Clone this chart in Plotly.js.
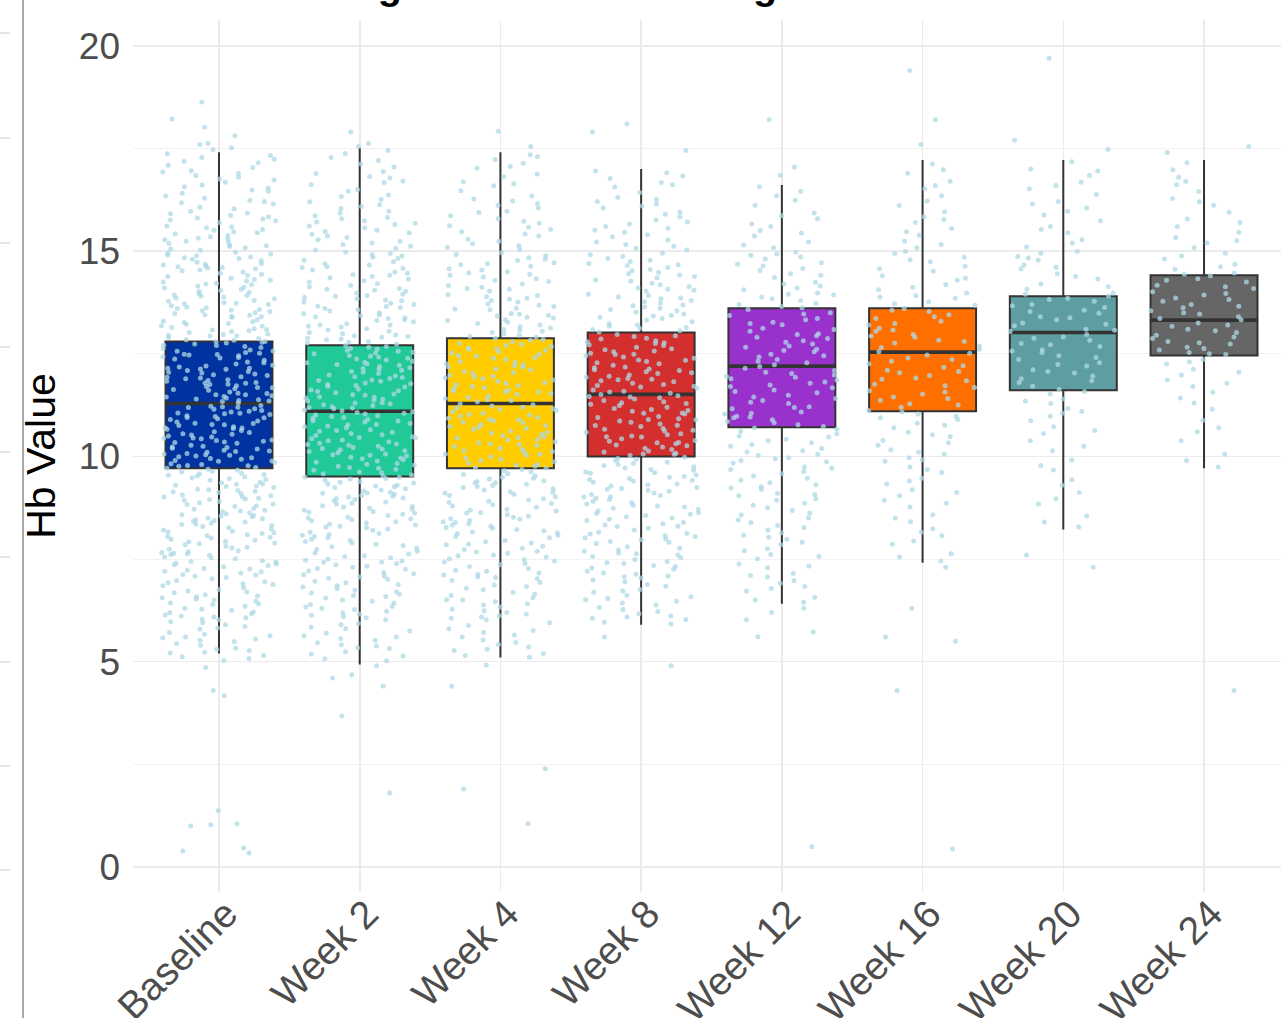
<!DOCTYPE html>
<html><head><meta charset="utf-8">
<script src="https://cdn.plot.ly/plotly-3.0.1.min.js"></script>
<style>html,body{margin:0;padding:0;background:#fff;overflow:hidden}</style>
</head><body><div id="chart" style="width:1281px;height:1018px"></div>
<script>
// ---- categories and box statistics ----
const categories = ['Baseline','Week 2','Week 4','Week 8','Week 12','Week 16','Week 20','Week 24'];
const q1 = [9.71, 9.51, 9.71, 10.0, 10.71, 11.1, 11.61, 12.46];
const medians = [11.29, 11.1, 11.29, 11.51, 12.2, 12.54, 13.02, 13.32];
const q3 = [12.8, 12.71, 12.88, 13.02, 13.61, 13.61, 13.9, 14.41];
const lowerWhisker = [5.2, 4.93, 5.1, 5.9, 6.41, 7.41, 8.22, 9.71];
const upperWhisker = [17.41, 17.51, 17.41, 17.0, 16.61, 17.22, 17.22, 17.22];
const boxColors = ['#0033A0','#20C997','#FFCC00','#D32F2F','#9932CC','#FF6F00','#5F9EA0','#666666'];
const yTickVals = [0, 5, 10, 15, 20];
const yMinorVals = [2.5, 7.5, 12.5, 17.5];
const chartTitle = 'Mean Hemoglobin Levels Throughout Treatment Weeks';
const yTitle = 'Hb Value';

const baselineCore = [5.23,5.44,5.58,5.71,5.12,5.95,5.33,5.67,5.86,5.49,5.27,5.9,
6.04,6.21,6.3,6.47,6.63,6.72,6.88,6.14,6.25,6.56,6.92,6.39,6.8,6.07,6.68,6.43,6.98,
7.02,7.16,7.27,7.36,7.51,7.55,7.64,7.7,7.85,7.93,7.08,7.23,7.4,7.59,7.66,7.89,7.19,7.46,7.77,7.98,
8.03,8.12,8.18,8.29,8.35,8.44,8.53,8.6,8.69,8.78,8.84,8.95,8.07,8.23,8.4,8.56,8.73,8.87,8.14,8.48,8.65,8.98,
9.02,9.12,9.17,9.28,9.33,9.42,9.5,9.56,9.64,9.71,9.8,9.85,9.93,9.06,9.24,9.37,9.54,9.69,9.82,9.97,9.15,9.46,9.76,9.9,
10.01,10.1,10.18,10.23,10.32,10.37,10.47,10.52,10.6,10.69,10.75,10.81,10.9,10.95,10.04,10.22,10.35,10.5,10.63,10.78,10.92,10.13,10.43,10.7,10.99,
11.04,11.1,11.19,11.24,11.34,11.4,11.48,11.54,11.63,11.68,11.76,11.85,11.91,11.99,11.06,11.21,11.38,11.5,11.67,11.8,11.94,11.15,11.45,11.72,11.87,
12.03,12.13,12.18,12.28,12.34,12.43,12.49,12.59,12.65,12.74,12.8,12.9,12.95,12.09,12.22,12.4,12.53,12.7,12.84,12.98,12.15,12.47,12.76,12.93,
13.04,13.11,13.22,13.28,13.39,13.45,13.56,13.62,13.73,13.8,13.91,13.96,13.08,13.26,13.41,13.6,13.75,13.93,13.17,13.5,13.67,13.86,
14.04,14.15,14.22,14.34,14.41,14.52,14.59,14.7,14.77,14.89,14.95,14.1,14.29,14.46,14.64,14.84,14.18,14.57,14.73,14.93,
15.05,15.15,15.28,15.38,15.51,15.61,15.74,15.84,15.97,15.11,15.32,15.57,15.78,15.22,15.45,15.91,
16.07,16.18,16.34,16.46,16.61,16.73,16.89,16.96,16.24,16.54,16.8,
17.04,17.19,17.28,17.37];
const baselineMore = [5.15,5.3,5.52,5.63,5.79,5.97,5.21,5.4,5.6,5.82,5.08,5.55,
6.02,6.11,6.19,6.35,6.41,6.52,6.6,6.76,6.85,6.95,6.09,6.28,6.5,6.7,6.9,6.17,6.58,
7.05,7.12,7.2,7.31,7.38,7.44,7.53,7.61,7.68,7.74,7.81,7.87,7.96,7.11,7.26,7.43,7.62,7.79,7.92,7.34,
8.01,8.09,8.16,8.21,8.32,8.38,8.46,8.5,8.58,8.63,8.71,8.8,8.9,8.96,8.05,8.26,8.42,8.55,8.67,8.83,8.93,8.34,
9.01,9.09,9.14,9.2,9.3,9.36,9.44,9.48,9.59,9.66,9.73,9.78,9.88,9.95,9.04,9.19,9.32,9.52,9.62,9.77,9.89,9.27,9.58,9.99,
10.03,10.07,10.15,10.2,10.27,10.34,10.4,10.45,10.55,10.58,10.66,10.72,10.8,10.86,10.94,10.06,10.25,10.39,10.54,10.68,10.84,10.97,10.12,10.44,10.77,
11.02,11.08,11.16,11.22,11.3,11.36,11.42,11.5,11.57,11.61,11.7,11.78,11.83,11.89,11.97,11.05,11.2,11.35,11.53,11.65,11.79,11.93,11.12,11.46,11.75,
12.01,12.07,12.15,12.2,12.3,12.37,12.45,12.51,12.57,12.63,12.71,12.78,12.87,12.94,12.05,12.25,12.41,12.56,12.68,12.83,12.97,12.12,12.48,12.79,
13.02,13.09,13.18,13.24,13.33,13.4,13.48,13.53,13.64,13.7,13.78,13.84,13.92,13.99,13.06,13.29,13.44,13.58,13.72,13.88,13.14,13.55,
14.02,14.12,14.2,14.27,14.38,14.44,14.54,14.62,14.68,14.8,14.86,14.97,14.07,14.31,14.49,14.66,14.82,14.25,14.6,14.9,
15.02,15.13,15.24,15.35,15.47,15.59,15.7,15.81,15.93,15.08,15.3,15.53,15.76,15.19,15.42,15.87,
16.03,16.15,16.29,16.41,16.57,16.68,16.84,16.93,16.21,16.49,16.76,
17.09,17.15,17.24,17.33];
const baselineOuter = [18.63,18.22,18.02,17.81,17.63,17.6,17.52,17.47,5.03,4.86,4.3,4.17,1.37,1.05,1.03,1.0,0.46,0.39,0.34];

const week2Core = [5.07,5.32,5.46,5.63,5.84,5.19,5.75,5.93,5.38,5.56,
6.02,6.16,6.3,6.43,6.59,6.7,6.85,6.96,6.1,6.35,6.64,6.78,6.23,6.5,
7.03,7.12,7.25,7.36,7.47,7.58,7.69,7.8,7.93,7.06,7.3,7.53,7.73,7.98,7.17,7.42,7.86,
8.05,8.12,8.23,8.3,8.41,8.48,8.59,8.66,8.77,8.84,8.95,8.08,8.26,8.46,8.62,8.8,8.99,8.35,8.71,
9.01,9.11,9.18,9.28,9.35,9.45,9.52,9.62,9.69,9.79,9.86,9.96,9.05,9.24,9.39,9.58,9.73,9.92,9.13,9.49,9.81,
10.03,10.12,10.19,10.29,10.36,10.46,10.53,10.63,10.7,10.8,10.87,10.97,10.06,10.25,10.4,10.59,10.74,10.93,10.16,10.48,10.84,10.32,
11.01,11.11,11.18,11.28,11.35,11.45,11.52,11.62,11.69,11.79,11.86,11.96,11.05,11.24,11.39,11.58,11.73,11.92,11.13,11.49,11.83,11.31,
12.05,12.12,12.22,12.29,12.39,12.46,12.56,12.63,12.73,12.8,12.9,12.96,12.07,12.26,12.42,12.61,12.76,12.94,12.16,12.52,12.86,
13.02,13.15,13.23,13.36,13.45,13.57,13.66,13.79,13.87,13.98,13.08,13.31,13.5,13.73,13.92,13.2,13.4,13.63,
14.05,14.16,14.32,14.43,14.58,14.69,14.85,14.97,14.09,14.38,14.62,14.91,14.25,14.49,14.78,
15.07,15.2,15.37,15.51,15.68,15.82,15.97,15.12,15.45,15.74,15.28,15.61,
16.09,16.26,16.46,16.62,16.82,16.94,16.37,16.71,
17.12,17.28,17.45];
const week2More = [5.02,5.24,5.41,5.52,5.69,5.9,5.14,5.6,5.8,5.34,
6.07,6.19,6.27,6.39,6.47,6.55,6.67,6.74,6.82,6.92,6.13,6.33,6.61,6.88,
7.01,7.09,7.21,7.33,7.43,7.5,7.62,7.77,7.89,7.95,7.14,7.27,7.45,7.65,7.83,7.39,7.56,
8.02,8.15,8.2,8.33,8.38,8.5,8.56,8.69,8.74,8.86,8.92,8.1,8.28,8.43,8.64,8.78,8.97,8.52,8.89,
9.03,9.08,9.16,9.21,9.3,9.37,9.42,9.5,9.55,9.66,9.71,9.83,9.89,9.98,9.1,9.26,9.46,9.6,9.76,9.94,9.33,
10.01,10.09,10.14,10.22,10.3,10.38,10.43,10.51,10.56,10.65,10.72,10.78,10.86,10.9,10.99,10.04,10.27,10.45,10.61,10.77,10.95,10.18,
11.03,11.09,11.16,11.21,11.3,11.37,11.42,11.5,11.55,11.64,11.71,11.77,11.85,11.9,11.98,11.07,11.26,11.44,11.6,11.75,11.94,11.19,
12.02,12.1,12.14,12.24,12.32,12.37,12.44,12.5,12.58,12.66,12.7,12.78,12.84,12.92,12.99,12.19,12.35,12.54,12.68,12.88,12.28,
13.05,13.11,13.2,13.28,13.38,13.43,13.54,13.6,13.7,13.76,13.84,13.95,13.17,13.33,13.48,13.65,13.81,13.9,
14.02,14.13,14.21,14.35,14.46,14.54,14.66,14.74,14.88,14.94,14.28,14.41,14.6,14.82,14.07,
15.03,15.16,15.33,15.48,15.57,15.71,15.86,15.93,15.24,15.41,15.65,15.79,
16.04,16.2,16.33,16.5,16.67,16.78,16.89,16.13,
17.05,17.21,17.38];
const week2Outer = [17.9,17.62,17.55,4.9,4.68,4.6,4.41,3.68,1.8];

const week4Core = [5.15,5.36,5.6,5.8,5.27,5.71,5.95,5.47,
6.06,6.2,6.38,6.51,6.69,6.83,6.98,6.12,6.46,6.75,6.28,6.61,
7.05,7.16,7.32,7.43,7.58,7.69,7.85,7.95,7.11,7.36,7.64,7.89,7.23,7.51,7.76,
8.02,8.16,8.25,8.39,8.48,8.62,8.71,8.85,8.94,8.08,8.33,8.54,8.79,8.19,8.44,8.67,8.91,
9.05,9.14,9.27,9.36,9.49,9.58,9.71,9.8,9.93,9.08,9.32,9.52,9.76,9.96,9.21,9.41,9.65,9.87,
10.03,10.12,10.24,10.33,10.45,10.54,10.66,10.75,10.87,10.95,10.06,10.29,10.48,10.71,10.9,10.17,10.4,10.59,10.82,
11.02,11.15,11.23,11.36,11.44,11.57,11.65,11.78,11.86,11.98,11.09,11.28,11.51,11.7,11.93,11.18,11.41,11.6,11.83,
12.04,12.17,12.26,12.39,12.48,12.61,12.7,12.83,12.92,12.11,12.31,12.55,12.75,12.99,12.2,12.44,12.64,12.88,
13.05,13.16,13.31,13.42,13.57,13.68,13.83,13.94,13.09,13.37,13.61,13.89,13.24,13.48,13.76,
14.07,14.2,14.37,14.5,14.67,14.8,14.96,14.12,14.44,14.72,14.29,14.57,14.89,
15.09,15.29,15.53,15.73,15.94,15.18,15.42,15.62,15.86,
16.12,16.34,16.59,16.81,16.22,16.69,
17.06,17.23,17.35];
const week4More = [5.11,5.3,5.53,5.76,5.42,5.65,5.88,5.2,
6.02,6.16,6.33,6.41,6.56,6.64,6.79,6.93,6.09,6.24,6.5,6.87,
7.02,7.13,7.27,7.39,7.48,7.6,7.73,7.81,7.92,7.07,7.2,7.45,7.67,7.86,7.55,
8.05,8.12,8.22,8.3,8.41,8.52,8.58,8.69,8.76,8.88,8.97,8.14,8.36,8.47,8.63,8.82,8.27,
9.02,9.11,9.18,9.29,9.39,9.45,9.56,9.62,9.73,9.84,9.9,9.99,9.13,9.24,9.47,9.68,9.79,9.35,
10.05,10.1,10.2,10.27,10.36,10.42,10.51,10.57,10.68,10.73,10.84,10.93,10.98,10.14,10.31,10.46,10.62,10.78,10.89,
11.05,11.12,11.2,11.26,11.33,11.47,11.53,11.62,11.68,11.75,11.8,11.89,11.95,11.01,11.16,11.38,11.57,11.73,11.91,
12.02,12.13,12.23,12.29,12.36,12.46,12.52,12.62,12.68,12.79,12.85,12.95,12.07,12.18,12.41,12.58,12.73,12.9,
13.02,13.13,13.27,13.39,13.46,13.59,13.71,13.8,13.92,13.07,13.2,13.44,13.65,13.85,13.33,
14.03,14.16,14.26,14.41,14.54,14.63,14.77,14.92,14.09,14.33,14.47,14.69,14.84,
15.04,15.24,15.37,15.58,15.79,15.97,15.13,15.47,15.68,
16.05,16.27,16.47,16.64,16.88,16.16,
17.02,17.14,17.3];
const week4Outer = [17.92,17.55,4.92,4.4,2.39,1.9,1.05];

const week8Core = [5.92,6.06,6.17,6.32,6.43,6.58,6.69,6.84,6.95,6.11,6.51,6.76,
7.04,7.16,7.32,7.44,7.6,7.72,7.88,7.97,7.09,7.39,7.65,7.93,7.25,7.53,
8.05,8.15,8.29,8.39,8.53,8.63,8.77,8.87,8.98,8.11,8.33,8.59,8.81,8.21,8.47,8.71,
9.02,9.15,9.24,9.37,9.46,9.59,9.68,9.81,9.9,9.07,9.31,9.51,9.75,9.95,9.2,9.42,9.62,9.86,
10.05,10.13,10.26,10.34,10.47,10.55,10.68,10.76,10.89,10.97,10.08,10.31,10.5,10.73,10.92,10.2,10.39,10.62,10.83,
11.03,11.12,11.24,11.33,11.45,11.54,11.66,11.75,11.87,11.95,11.06,11.29,11.48,11.71,11.9,11.17,11.4,11.59,11.82,
12.04,12.13,12.26,12.35,12.48,12.57,12.7,12.79,12.92,12.09,12.31,12.51,12.75,12.97,12.18,12.42,12.62,12.86,
13.06,13.17,13.32,13.43,13.58,13.69,13.84,13.95,13.12,13.36,13.64,13.88,13.23,13.51,13.77,
14.05,14.18,14.35,14.48,14.65,14.78,14.95,14.1,14.42,14.7,14.27,14.55,14.87,
15.07,15.27,15.51,15.71,15.95,15.16,15.4,15.6,15.84,
16.1,16.31,16.56,16.77,16.95,16.21,16.67];
const week8More = [5.96,6.09,6.22,6.27,6.38,6.47,6.62,6.72,6.88,6.99,6.03,6.54,
7.07,7.2,7.28,7.41,7.49,7.63,7.69,7.8,7.91,7.13,7.34,7.56,7.76,7.99,
8.02,8.13,8.25,8.36,8.44,8.56,8.67,8.74,8.84,8.95,8.07,8.3,8.5,8.61,8.79,8.91,
9.05,9.11,9.22,9.33,9.4,9.49,9.55,9.66,9.72,9.83,9.93,9.01,9.17,9.28,9.44,9.6,9.78,9.98,
10.02,10.11,10.17,10.28,10.37,10.43,10.53,10.59,10.66,10.79,10.86,10.95,10.06,10.23,10.33,10.48,10.64,10.75,10.9,
11.05,11.1,11.2,11.27,11.36,11.43,11.51,11.57,11.69,11.73,11.84,11.93,11.98,11.14,11.31,11.46,11.62,11.78,11.88,
12.02,12.11,12.22,12.28,12.39,12.45,12.55,12.6,12.72,12.77,12.88,12.94,12.06,12.16,12.34,12.49,12.66,12.82,
13.03,13.14,13.28,13.39,13.47,13.61,13.73,13.8,13.92,13.09,13.2,13.42,13.55,13.67,13.86,
14.02,14.14,14.3,14.45,14.52,14.67,14.75,14.91,14.07,14.22,14.38,14.6,14.82,
15.03,15.22,15.35,15.56,15.76,15.9,15.12,15.46,15.66,
16.05,16.26,16.43,16.62,16.83,16.15,16.91];
const week8Outer = [18.1,17.9,17.45,5.6,4.9];

const week12Core = [6.45,6.57,6.72,6.83,6.97,
7.06,7.15,7.29,7.38,7.51,7.61,7.75,7.85,7.98,
8.03,8.14,8.21,8.32,8.39,8.5,8.57,8.68,8.75,8.86,8.93,
9.04,9.1,9.2,9.26,9.36,9.42,9.52,9.58,9.68,9.74,9.84,9.9,9.97,
10.02,10.11,10.14,10.25,10.29,10.38,10.47,10.5,10.61,10.66,10.73,10.82,10.85,10.94,10.98,
11.03,11.08,11.16,11.21,11.29,11.36,11.41,11.49,11.55,11.62,11.67,11.74,11.81,11.86,11.93,11.98,
12.02,12.09,12.15,12.23,12.28,12.36,12.42,12.49,12.55,12.61,12.69,12.74,12.82,12.87,12.94,12.99,
13.05,13.12,13.21,13.27,13.36,13.43,13.5,13.58,13.65,13.73,13.8,13.88,13.93,13.98,
14.06,14.15,14.24,14.36,14.45,14.53,14.64,14.72,14.81,14.9,14.97,
15.08,15.22,15.37,15.5,15.66,15.79,15.93,
16.12,16.35,16.57];
const week12More = [6.5,6.78,6.91,
7.1,7.33,7.56,7.7,7.91,
8.08,8.27,8.45,8.62,8.81,8.97,
9.07,9.23,9.31,9.47,9.63,9.71,9.87,9.94,
10.05,10.19,10.33,10.42,10.55,10.69,10.77,10.89,10.96,
11.05,11.19,11.32,11.45,11.58,11.7,11.78,11.89,11.95,
12.05,12.19,12.32,12.45,12.58,12.66,12.78,12.9,12.97,
13.09,13.24,13.33,13.47,13.62,13.7,13.84,13.95,
14.1,14.2,14.41,14.58,14.68,14.86,14.93,
15.15,15.44,15.6,15.86,
16.24,16.46];
const week12Outer = [18.2,17.05,16.85,6.3,6.2,6.02,5.72,5.61,0.49];

const week16Core = [7.45,7.63,7.86,
8.07,8.24,8.41,8.58,8.77,8.93,
9.04,9.19,9.33,9.47,9.61,9.74,9.88,9.97,
10.05,10.16,10.27,10.39,10.48,10.59,10.7,10.81,10.9,10.98,
11.03,11.12,11.2,11.28,11.37,11.45,11.52,11.6,11.68,11.76,11.84,11.91,11.97,
12.04,12.1,12.17,12.26,12.32,12.4,12.47,12.55,12.61,12.69,12.76,12.83,12.9,12.97,
13.05,13.12,13.2,13.29,13.36,13.45,13.53,13.6,13.68,13.77,13.85,13.92,13.98,
14.06,14.18,14.29,14.4,14.51,14.63,14.74,14.85,14.94,14.99,
15.08,15.24,15.39,15.55,15.7,15.84,15.96,
16.11,16.35,16.52,16.7,16.9,17.12];
const week16More = [7.55,7.94,8.15,8.5,8.86,9.12,9.4,9.68,9.92,
10.1,10.33,10.53,10.76,10.94,11.08,11.25,11.41,11.57,11.72,11.88,
12.07,12.21,12.36,12.51,12.65,12.8,12.93,13.08,13.24,13.4,13.56,13.72,13.88,
14.12,14.34,14.57,14.79,15.16,15.47,15.77,16.22,16.6,16.98];
const week16Outer = [19.4,18.2,17.6,7.3,6.3,5.6,5.5,4.3,0.44];

const week20Core = [8.28,8.55,8.84,
9.12,9.43,9.67,9.91,
10.14,10.38,10.56,10.72,10.87,10.98,
11.05,11.17,11.29,11.4,11.52,11.63,11.71,11.8,11.89,11.96,
12.03,12.11,12.2,12.28,12.36,12.45,12.53,12.6,12.68,12.75,12.83,12.91,12.97,
13.04,13.1,13.18,13.25,13.33,13.4,13.49,13.56,13.63,13.7,13.78,13.85,13.91,13.98,
14.07,14.2,14.32,14.45,14.57,14.66,14.78,14.87,14.95,14.99,
15.1,15.28,15.45,15.6,15.74,15.88,15.97,
16.05,16.21,16.38,16.52,16.68,16.84,17.0,17.18];
const week20More = [8.4,8.97,9.3,9.78,10.25,10.63,11.1,11.35,11.58,11.84,12.07,12.24,12.41,12.57,12.72,12.88,
13.07,13.22,13.38,13.53,13.67,13.82,13.95,14.13,14.38,14.61,14.83,15.2,15.53,16.15,16.6,16.95];
const week20Outer = [19.7,17.7,17.48,7.6,7.3];

const week24Core = [9.74,10.05,10.38,
10.6,10.88,11.15,11.42,
11.56,11.7,11.86,11.98,12.12,12.25,12.36,12.48,
12.53,12.59,12.66,12.74,12.8,12.87,12.95,13.02,13.1,13.17,13.25,13.33,13.4,13.47,
13.55,13.62,13.7,13.78,13.86,13.93,14.01,14.09,14.17,14.25,14.33,14.4,14.47,
14.56,14.68,14.81,14.95,15.08,15.2,15.33,15.46,
15.6,15.78,15.95,16.12,16.28,16.45,
16.62,16.8,16.98,17.15];
const week24More = [9.9,10.7,11.3,11.78,12.05,12.3,12.5,12.63,12.77,12.91,13.06,13.2,13.36,13.5,
13.66,13.82,13.97,14.13,14.29,14.44,14.62,14.88,15.25,15.7,16.2,16.7];
const week24Outer = [17.55,17.4,4.3];

const pointSets = [
  [baselineCore.concat(baselineMore), baselineOuter],
  [week2Core.concat(week2More), week2Outer],
  [week4Core.concat(week4More), week4Outer],
  [week8Core.concat(week8More), week8Outer],
  [week12Core.concat(week12More), week12Outer],
  [week16Core.concat(week16More), week16Outer],
  [week20Core.concat(week20More), week20Outer],
  [week24Core.concat(week24More), week24Outer]
];

// ---- styles ----
const FONT = 'Liberation Sans, Arial, Helvetica, sans-serif';
const BOX_W = 0.76;
const traces = [];

categories.forEach((c, i) => {
  traces.push({
    type: 'box', x: [c], q1: [q1[i]], median: [medians[i]], q3: [q3[i]],
    lowerfence: [lowerWhisker[i]], upperfence: [upperWhisker[i]],
    fillcolor: boxColors[i], line: {color: '#333333', width: 2},
    whiskerwidth: 0, width: BOX_W, boxpoints: false, hoverinfo: 'skip', showlegend: false
  });
});
// thicker median bars
categories.forEach((c, i) => {
  const m = medians[i];
  traces.push({
    type: 'box', x: [c], q1: [m], median: [m], q3: [m], lowerfence: [m], upperfence: [m],
    fillcolor: 'rgba(0,0,0,0)', line: {color: '#333333', width: 3.6},
    whiskerwidth: 0, width: BOX_W, boxpoints: false, hoverinfo: 'skip', showlegend: false
  });
});
// jittered points on top
categories.forEach((c, i) => {
  pointSets[i].forEach(arr => {
    traces.push({
      type: 'box', y: arr, x0: c, boxpoints: 'all', jitter: 1, pointpos: 0, width: 0.82,
      fillcolor: 'rgba(0,0,0,0)', line: {color: 'rgba(0,0,0,0)', width: 0}, whiskerwidth: 0,
      marker: {color: 'rgba(173,216,230,0.75)', size: 5, line: {width: 0}},
      hoverinfo: 'skip', showlegend: false
    });
  });
});

// decorative remnants of the neighbouring panel at the left edge
const shapes = [{type: 'line', xref: 'paper', yref: 'paper', x0: -0.0958, x1: -0.0958, y0: -0.15, y1: 1.03,
  line: {color: '#8c8c8c', width: 1.5}}];
[33, 138, 243, 347, 452, 557, 662, 766, 870].forEach(py => {
  const yp = (892 - py) / 872;
  shapes.push({type: 'line', xref: 'paper', yref: 'paper', x0: -0.1159, x1: -0.1071, y0: yp, y1: yp,
    line: {color: '#dddddd', width: 1.5}});
});

const layout = {
  width: 1281, height: 1018,
  margin: {l: 133, r: 0, t: 20, b: 126, pad: 0},
  paper_bgcolor: '#ffffff', plot_bgcolor: '#ffffff',
  showlegend: false, boxmode: 'overlay',
  font: {family: FONT, color: '#4d4d4d'},
  xaxis: {
    type: 'category', range: [-0.611, 7.547], automargin: false,
    showgrid: true, gridcolor: '#ebebeb', gridwidth: 1.6,
    zeroline: false, showline: false, ticks: '', tickangle: -45,
    ticklabelstandoff: -10, ticklabelshift: 7,
    tickfont: {family: FONT, size: 39, color: '#4d4d4d'}
  },
  yaxis: {
    range: [-0.61, 20.63], automargin: false, tickmode: 'array', tickvals: yTickVals,
    showgrid: true, gridcolor: '#ebebeb', gridwidth: 1.6,
    minor: {tickmode: 'array', tickvals: yMinorVals, showgrid: true, gridcolor: '#f3f3f3', gridwidth: 1, ticks: ''},
    zeroline: false, showline: false, ticks: '', ticklabelstandoff: 12,
    tickfont: {family: FONT, size: 37, color: '#4d4d4d'},
    title: {text: yTitle, standoff: 10, font: {family: FONT, size: 41, color: '#000000'}}
  },
  annotations: [{
    text: '<b>' + chartTitle + '</b>', xref: 'paper', yref: 'paper', x: 0.474, y: 1.0126,
    xanchor: 'center', yanchor: 'bottom', showarrow: false,
    font: {family: FONT, size: 39.5, color: '#000000'}
  }],
  shapes: shapes
};

Plotly.newPlot('chart', traces, layout, {displayModeBar: false, staticPlot: true});
</script></body></html>
